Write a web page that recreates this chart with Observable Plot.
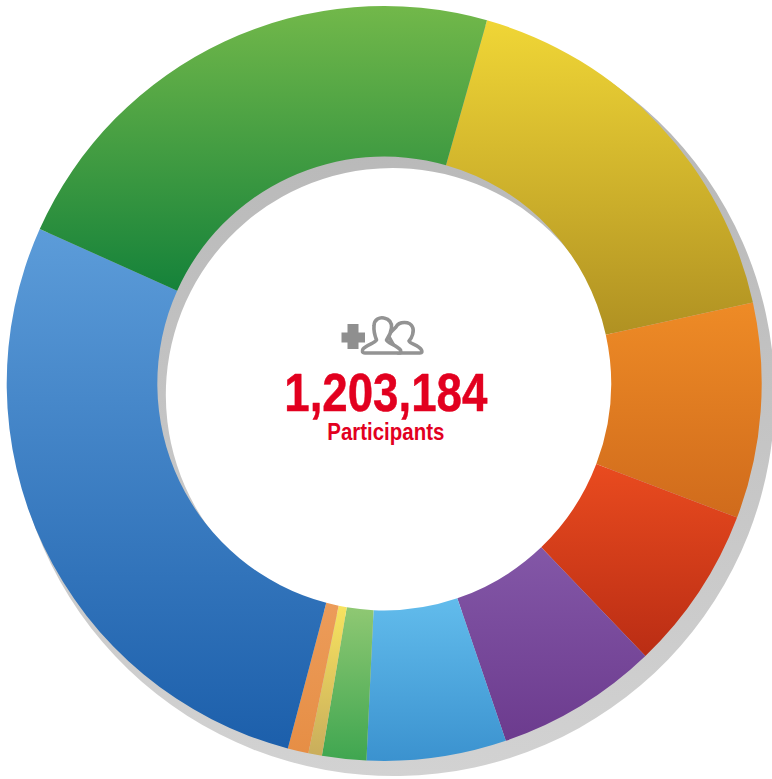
<!DOCTYPE html>
<html>
<head>
<meta charset="utf-8">
<style>html,body{margin:0;padding:0;background:#fff}svg{display:block}</style>
<script src="https://cdn.jsdelivr.net/npm/d3@7"></script>
<script src="https://cdn.jsdelivr.net/npm/@observablehq/plot@0.6"></script>
</head>
<body>
<script>
const categories = ["yellow","orange","red","purple","skyblue","lightgreen","paleyellow","paleorange","blue","green"];
const shares = [17.17, 9.22, 7.06, 6.94, 5.97, 1.89, 0.58, 0.89, 27.6, 22.68];
const topColors = ["#f0d636","#ee8b26","#e94b1f","#8357a7","#62bcec","#8fc873","#f7e35f","#ec9c5a","#5c9cd9","#72b84a"];
const bottomColors = ["#b09122","#d06b1c","#ba2d14","#6c3b8e","#3b92cf","#3fa650","#c9ad5c","#e68e45","#1c5fab","#15823a"];
const totalLabel = "1,203,184";
const unitLabel = "Participants";
const holeRatio = 0.601;

const total = d3.sum(shares);
const cum = d3.cumsum(shares);
const slices = categories.map((c, i) => ({
  category: c,
  start: i ? cum[i - 1] : 0,
  end: cum[i],
  fill: `url(#grad-${i})`
}));
const cx = 384.2, cy = 383.5;
const rad = d => d * Math.PI / 180;

function gradients() {
  const defs = d3.create("svg:defs");
  const add = (id, a, b) => {
    const g = defs.append("linearGradient").attr("id", id).attr("x1", 0).attr("y1", 0).attr("x2", 0).attr("y2", 1);
    g.append("stop").attr("offset", "0%").attr("stop-color", a);
    g.append("stop").attr("offset", "100%").attr("stop-color", b);
  };
  categories.forEach((c, i) => add(`grad-${i}`, topColors[i], bottomColors[i]));
  add("grad-shadow", "#b4b4b4", "#d2d2d2");
  return defs.node();
}

function arcRender(ox, oy) {
  return function (index, scales, values) {
    const arc = d3.arc();
    const g = d3.create("svg:g").attr("transform", `translate(${ox},${oy})`);
    for (const i of index) {
      g.append("path")
        .attr("d", arc({
          startAngle: values.x1[i],
          endAngle: values.x2[i],
          innerRadius: values.y1[i],
          outerRadius: values.y2[i]
        }))
        .attr("fill", values.fill ? values.fill[i] : "url(#grad-shadow)");
    }
    return g.node();
  };
}

function fitText(len) {
  return function (index, scales, values, dims, ctx, next) {
    const g = next(index, scales, values, dims, ctx);
    d3.select(g).selectAll("text").attr("textLength", len).attr("lengthAdjust", "spacingAndGlyphs");
    return g;
  };
}

function icon() {
  const g = d3.create("svg:g");
  g.append("path").attr("fill", "#8f8f8f")
    .attr("d", "M347.5 324H358.5V332.5H365V342.5H358.5V349H347.5V342.5H341.5V332.5H347.5Z");
  const style = s => s.attr("fill", "#fff").attr("stroke", "#939393").attr("stroke-width", 3.6).attr("stroke-linejoin", "round");
  style(g.append("path")).attr("d", "M396 327C399 321 410 321 412.5 327C414.5 331 412 338 409 341C410 344 419 345 421.5 350C422.5 352 422 353 420 353L398 353L388 335Z");
  style(g.append("path")).attr("d", "M374 326C374 319 380 317 384 318C389 319 392 322 391.5 328C391 333 388 338 386.5 340C387 343 397 345 400.5 350C401 352 401 353 399 353L365 353C362 353 362 351 363 349C366 345 375 343 376.5 340C375 336 373.5 331 374 326Z");
  return g.node();
}

const chart = Plot.plot({
  width: 772,
  height: 779,
  margin: 0,
  x: {axis: null, domain: [0, total], range: [rad(15.8), rad(375.8)]},
  y: {axis: null, domain: [0, 1], range: [0, 377.5]},
  color: {type: "identity"},
  marks: [
    gradients,
    Plot.rect([{start: 0, end: total}], {
      x1: "start", x2: "end", y1: () => holeRatio, y2: () => 1.009,
      render: arcRender(393, 395)
    }),
    Plot.rect(slices, {
      x1: "start", x2: "end", y1: () => holeRatio, y2: () => 1,
      fill: "fill",
      render: arcRender(cx, cy)
    }),
    icon,
    Plot.text([totalLabel], {
      text: d => d, frameAnchor: "top-left", dx: 385.3, dy: 410.5, lineAnchor: "bottom", textAnchor: "middle",
      fontFamily: "Liberation Sans", fontWeight: "bold", fontSize: 53, fill: "#e2001f",
      stroke: "#e2001f", strokeWidth: 0.5,
      render: fitText(203)
    }),
    Plot.text([unitLabel], {
      text: d => d, frameAnchor: "top-left", dx: 385.3, dy: 439, lineAnchor: "bottom", textAnchor: "middle",
      fontFamily: "Liberation Sans", fontWeight: "bold", fontSize: 24, fill: "#e2001f",
      render: fitText(117)
    })
  ]
});
document.body.append(chart);
</script>
</body>
</html>
